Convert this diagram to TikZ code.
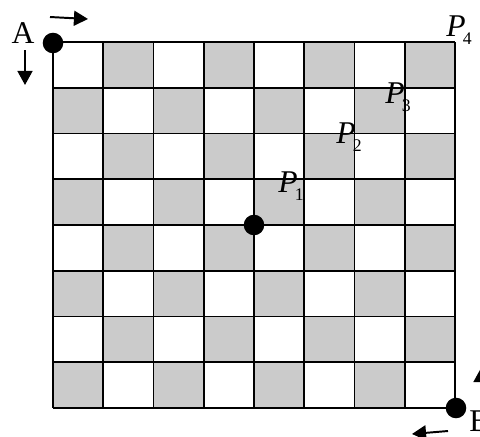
\documentclass[tikz,border=0pt]{standalone}
\usepackage{fontspec}
\setmainfont{Liberation Serif}
\usetikzlibrary{arrows.meta}
\definecolor{cellgray}{RGB}{203,203,203}
\newcommand{\plab}[1]{\textit{P}\kern-2pt\raisebox{-5.7pt}{\fontsize{12.6pt}{13pt}\selectfont #1}}
\tikzset{
  dot/.style={circle,fill=black,inner sep=0pt,minimum size=14.6pt},
  lab/.style={font=\fontsize{22.5pt}{24pt}\selectfont,inner sep=0pt},
  gridline/.style={line width=1.2pt},
  dirarrow/.style={-{Triangle[length=10pt,width=10.6pt]},line width=1.4pt}
}

\begin{document}
\begin{tikzpicture}[x=0.025cm,y=-0.025cm]
  \useasboundingbox (0,0) rectangle (480,436);
  \clip (0,0) rectangle (480,436);
  % Board: 8x8, grey where row+column is odd
  \foreach \r in {0,...,7}
    \foreach \c in {0,...,7}{
      \pgfmathtruncatemacro\odd{mod(\r+\c,2)}
      \ifnum\odd=1
        \fill[cellgray] ({53+50.25*\c},{42+45.75*\r}) rectangle ++(50.25,45.75);
      \fi
    }
  \foreach \i in {0,...,8}{
    \draw[gridline] ({53+50.25*\i},42) -- ++(0,366);
    \draw[gridline] (53,{42+45.75*\i}) -- ++(402,0);
  }
  % Points
  \node[dot] (A) at (53,43) {};
  \node[dot] (O) at (254,225) {};
  \node[dot] (B) at (456,408) {};
  \node[lab] (labA) at (23,33) {A};
  \node[lab,anchor=west] (labB) at (469,421) {B};
  \node[lab] (P1) at (291,186) {\plab{1}};
  \node[lab] (P2) at (349,137) {\plab{2}};
  \node[lab] (P3) at (398,97) {\plab{3}};
  \node[lab] (P4) at (459,30) {\plab{4}};
  % Directions at A
  \coordinate (aR0) at (50,17);
  \coordinate (aR1) at (88,19);
  \coordinate (aD0) at (25,50);
  \coordinate (aD1) at (25,85);
  \draw[dirarrow] (aR0) -- (aR1);
  \draw[dirarrow] (aD0) -- (aD1);
  % Directions at B
  \coordinate (bL0) at (448,431);
  \coordinate (bL1) at (412,434);
  \coordinate (bU0) at (481,402);
  \coordinate (bU1) at (481,368);
  \draw[dirarrow] (bL0) -- (bL1);
  \draw[dirarrow] (bU0) -- (bU1);
\end{tikzpicture}
\end{document}
